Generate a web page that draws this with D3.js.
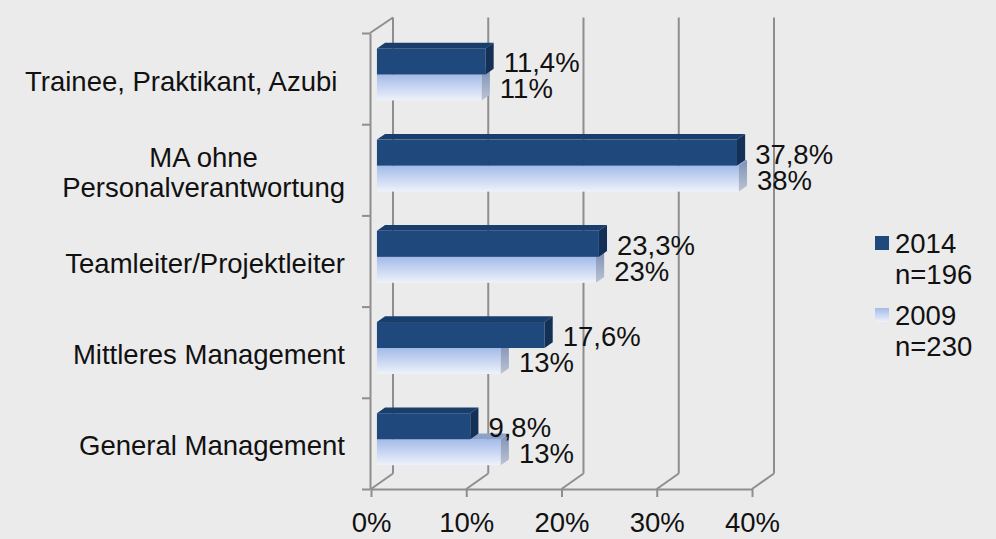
<!DOCTYPE html>
<html>
<head>
<meta charset="utf-8">
<script src="https://cdn.jsdelivr.net/npm/d3@7"></script>
<style>
    body { margin: 0; background: #ebebeb; }
    svg { display: block; font-family: "Liberation Sans", Arial, sans-serif; }
    text { fill: #111; font-size: 27.5px; white-space: pre; }
</style>
</head>
<body>
<svg id="chart" width="996" height="539"></svg>
<script>
// data
var categories = ["Trainee, Praktikant, Azubi ", "MA ohne\nPersonalverantwortung", "Teamleiter/Projektleiter", "Mittleres Management", "General Management"];
var series = ["2014", "2009"];
var values2014 = [11.4, 37.8, 23.3, 17.6, 9.8];
var values2009 = [11, 38, 23, 13, 13];
var legendLabels = [["2014", "n=196"], ["2009", "n=230"]];
var xTicks = [0, 10, 20, 30, 40];

var svg = d3.select("#chart");

// 3D frame
var DX = 22, DY = -15.5;          // depth of the box
var front = { top: 33, bottom: 489 };
var t0 = 0.27, tb = 0.37;         // bar position / thickness along the depth
var ox = t0 * DX, oy = t0 * DY, bx = tb * DX, by = tb * DY;
var grid = "#8e8e8e";

var de = d3.formatLocale({ decimal: ",", thousands: ".", grouping: [3], currency: ["", "€"] });
var fmt = { "2014": de.format(".1f"), "2009": de.format(".0f") };

var x = d3.scaleLinear().domain([0, 40]).range([371, 752]);
var yb = d3.scaleLinear().domain([0, categories.length]).range([front.top, front.bottom]);
var y = d3.scaleBand().domain(categories).range([front.top, front.bottom]).paddingInner(0.43).paddingOuter(0.215);
var ys = d3.scaleBand().domain(series).range([0, y.bandwidth()]);

// gradients
var defs = svg.append("defs");
function grad(id, c1, c2) {
    var g = defs.append("linearGradient").attr("id", id).attr("x1", 0).attr("y1", 0).attr("x2", 0).attr("y2", 1);
    g.append("stop").attr("offset", "0%").attr("stop-color", c1);
    g.append("stop").attr("offset", "100%").attr("stop-color", c2);
}
grad("lightFront", "#a3bbe8", "#eef2fb");
grad("lightSide", "#7d90b6", "#bcc4d4");
grad("lightLegend", "#a3bbe8", "#eef2fb");

var colors = {
    "2014": { front: "#1f497d", top: "#1a3e6c", side: "#143056" },
    "2009": { front: "url(#lightFront)", top: "#8ca1cb", side: "url(#lightSide)" }
};

// back wall gridlines + floor diagonals
var g = svg.append("g");
g.selectAll(".back").data(xTicks).enter().append("line")
    .attr("x1", d => x(d) + DX).attr("x2", d => x(d) + DX)
    .attr("y1", front.bottom + DY).attr("y2", front.top + DY)
    .attr("stroke", grid).attr("stroke-width", 2);
g.selectAll(".floor").data(xTicks).enter().append("line")
    .attr("x1", d => x(d)).attr("y1", front.bottom)
    .attr("x2", d => x(d) + DX).attr("y2", front.bottom + DY)
    .attr("stroke", grid).attr("stroke-width", 2);
// left wall top edge
g.append("line")
    .attr("x1", x(0) - 1).attr("y1", front.top)
    .attr("x2", x(0) + DX).attr("y2", front.top + DY)
    .attr("stroke", grid).attr("stroke-width", 2);

// axes
var xAxis = svg.append("g").attr("transform", `translate(0,${front.bottom})`)
    .call(d3.axisBottom(x).tickValues(xTicks).tickSize(8).tickSizeOuter(0).tickPadding(15.5).tickFormat(d => d + "%"));
var yAxis = svg.append("g").attr("transform", `translate(${x(0) - 1},0)`)
    .call(d3.axisLeft(yb).tickValues(d3.range(categories.length + 1)).tickSize(8).tickSizeOuter(0).tickFormat(""));
[xAxis, yAxis].forEach(function (a) {
    a.attr("font-size", null).attr("font-family", null);
    a.selectAll("path, line").attr("stroke", grid).attr("stroke-width", 2);
    a.selectAll("text").attr("fill", "#111");
});

// bars
var bars = svg.append("g");
categories.forEach(function (c, i) {
    var vals = { "2014": values2014[i], "2009": values2009[i] };
    ["2009", "2014"].forEach(function (s) {
        var v = vals[s];
        var x0 = x(0) + ox, x1 = x(v) + ox;
        var y0 = y(c) + ys(s) + oy, y1 = y0 + ys.bandwidth();
        var col = colors[s];
        bars.append("rect").attr("x", x0).attr("y", y0).attr("width", x1 - x0).attr("height", y1 - y0)
            .attr("fill", col.front);
        bars.append("polygon")
            .attr("points", [[x0, y0], [x1, y0], [x1 + bx, y0 + by], [x0 + bx, y0 + by]].join(" "))
            .attr("fill", col.top);
        bars.append("polygon")
            .attr("points", [[x1, y0], [x1 + bx, y0 + by], [x1 + bx, y1 + by], [x1, y1]].join(" "))
            .attr("fill", col.side);
        bars.append("text").attr("x", x1 + bx + 10).attr("y", y1 - 2).text(fmt[s](v) + "%");
    });
});

// category labels
var labels = svg.append("g");
categories.forEach(function (c, i) {
    var lines = c.split("\n");
    var mid = (yb(i) + yb(i + 1)) / 2;
    var t = labels.append("text").attr("text-anchor", "middle");
    lines.forEach(function (l, j) {
        t.append("tspan").attr("y", mid + 12 + (j - (lines.length - 1) / 2) * 30).text(l);
    });
    var w = d3.max(t.selectAll("tspan").nodes(), n => n.getComputedTextLength());
    t.selectAll("tspan").attr("x", 345 - w / 2);
});

// legend
var legend = svg.append("g").attr("transform", "translate(875,236)");
legendLabels.forEach(function (l, i) {
    var gi = legend.append("g").attr("transform", `translate(0,${i * 72})`);
    gi.append("rect").attr("width", 14).attr("height", 14)
        .attr("fill", i === 0 ? colors["2014"].front : "url(#lightLegend)");
    gi.append("text").attr("x", 20).attr("y", 17).text(l[0]);
    gi.append("text").attr("x", 20).attr("y", 48).text(l[1]);
});
</script>
</body>
</html>
